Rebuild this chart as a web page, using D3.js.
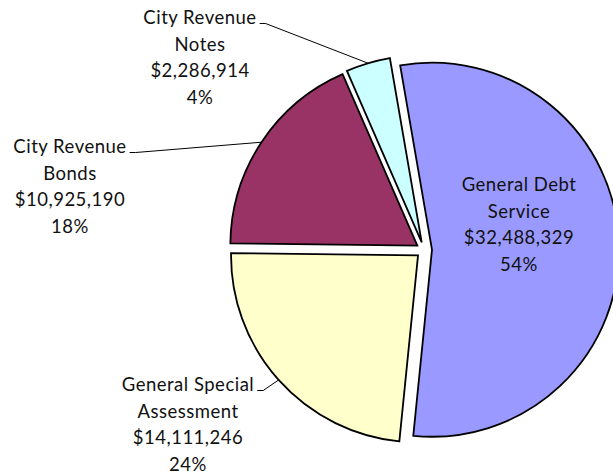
<!DOCTYPE html>
<html>
<head>
<meta charset="utf-8">
<script src="https://cdn.jsdelivr.net/npm/d3@7"></script>
<style>
  body { margin: 0; background: #fff; }
  svg { display: block; }
  .slice { stroke: #000; stroke-width: 1.8; stroke-linejoin: miter; }
  .label { font-family: Lato, "Open Sans", sans-serif; font-size: 18.5px; letter-spacing: 0.5px; fill: #111; text-anchor: middle; }
  .leader { fill: none; stroke: #000; stroke-width: 1; }
</style>
</head>
<body>
<div id="chart"></div>
<script>
const categories = ['General Debt Service', 'General Special Assessment', 'City Revenue Bonds', 'City Revenue Notes'];
const values = [32488329, 14111246, 10925190, 2286914];
const labelLines = [
  ['General Debt', 'Service'],
  ['General Special', 'Assessment'],
  ['City Revenue', 'Bonds'],
  ['City Revenue', 'Notes']
];
const colors = ['#9999ff', '#ffffcc', '#993366', '#ccffff'];

const width = 613, height = 474;
const cx = 424, cy = 250, radius = 187, explode = 8;

// where each label block sits (center of the first line), and whether it gets a leader
const labelLayout = [
  {x: 519, y: 185, leader: false},
  {x: 188, y: 385, leader: true},
  {x: 70, y: 147, leader: true},
  {x: 200, y: 18, leader: true}
];
const lineHeight = 26.5;

const svg = d3.select('#chart').append('svg')
  .attr('width', width)
  .attr('height', height);

const total = d3.sum(values);
const fmtMoney = d3.format('$,');
const fmtPct = d3.format('.0%');

const startAngle = -9.8 * Math.PI / 180;
const pie = d3.pie().sort(null)
  .startAngle(startAngle)
  .endAngle(startAngle + 2 * Math.PI);

const arcs = pie(values).map((d, i) => {
  const mid = (d.startAngle + d.endAngle) / 2;
  d.dx = explode * Math.sin(mid);
  d.dy = -explode * Math.cos(mid);
  d.mid = mid;
  d.i = i;
  return d;
});

const arc = d3.arc().innerRadius(0).outerRadius(radius);

const chart = svg.append('g')
  .attr('transform', `translate(${cx}, ${cy})`);

chart.selectAll('.slice')
  .data(arcs)
  .enter().append('path')
  .attr('class', 'slice')
  .attr('transform', d => `translate(${d.dx}, ${d.dy})`)
  .attr('fill', d => colors[d.i])
  .attr('d', arc);

// leader lines: short horizontal stub next to the label, then to the slice edge
arcs.forEach((d, i) => {
  const lay = labelLayout[i];
  if (!lay.leader) return;
  const ex = cx + d.dx + radius * Math.sin(d.mid);
  const ey = cy + d.dy - radius * Math.cos(d.mid);
  const textW = svg.append('text').attr('class', 'label').text(labelLines[i][0]);
  const w = textW.node().getComputedTextLength();
  textW.remove();
  const sx = lay.x + w / 2 + 3;
  const sy = lay.y + 5.5;
  svg.append('path')
    .attr('class', 'leader')
    .attr('d', `M${sx},${sy}H${sx + 6}L${ex},${ey}`);
});

arcs.forEach((d, i) => {
  const lay = labelLayout[i];
  const lines = labelLines[i].concat([fmtMoney(values[i]), fmtPct(values[i] / total)]);
  const t = svg.append('text')
    .attr('class', 'label');
  lines.forEach((line, k) => {
    t.append('tspan')
      .attr('x', lay.x)
      .attr('y', lay.y + k * lineHeight)
      .attr('dy', '0.35em')
      .text(line);
  });
});
</script>
</body>
</html>
